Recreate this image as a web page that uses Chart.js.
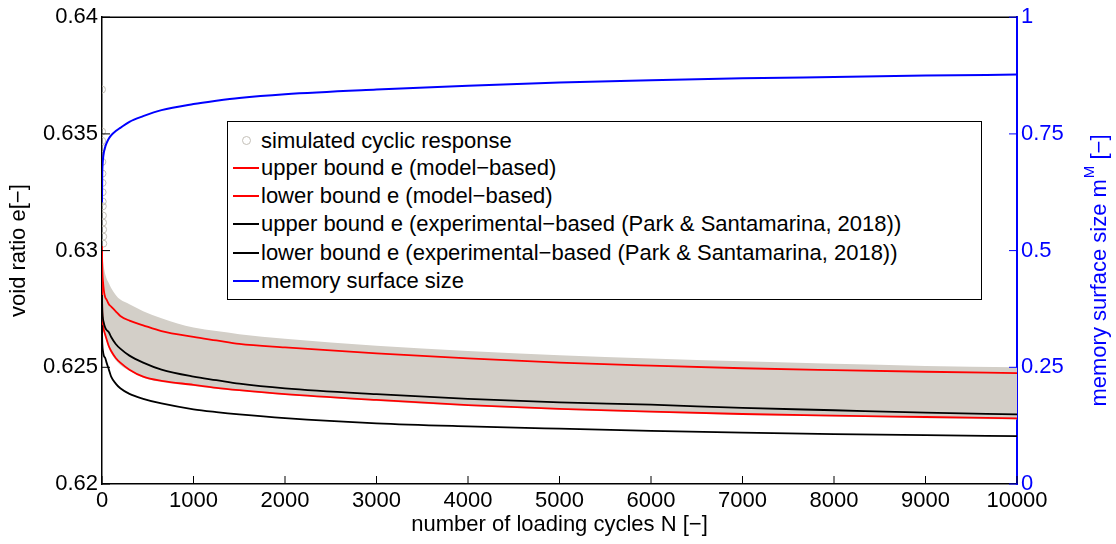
<!DOCTYPE html>
<html>
<head>
<meta charset="utf-8">
<script src="https://cdn.jsdelivr.net/npm/chart.js@4.4.1/dist/chart.umd.min.js"></script>
<style>
  html, body { margin: 0; padding: 0; background: #fff; }
  #wrap { position: relative; width: 1116px; height: 544px; }
  #legend {
    position: absolute; left: 227px; top: 121px; width: 755px; height: 179px;
    box-sizing: border-box; border: 1.5px solid #000; background: #fff;
    font-family: "Liberation Sans", Arial, sans-serif; font-size: 22px; color: #000;
  }
  .row { position: absolute; left: 0; height: 28px; line-height: 28px; width: 100%; }
  .sw { position: absolute; left: 5px; top: 13px; width: 26px; height: 2px; }
  .dot { position: absolute; left: 14px; top: 9px; width: 7px; height: 7px; border: 1px solid #c4c0b8; border-radius: 50%; }
  .txt { position: absolute; left: 33px; top: 0; white-space: nowrap; }
</style>
</head>
<body>
<div id="wrap">
  <canvas id="myChart" width="1116" height="544"></canvas>
  <div id="legend"></div>
</div>
<script>
// cycle numbers where the curves were read
const cycles = [0, 2, 5, 10, 20, 35, 50, 75, 100, 150, 200, 300, 450, 650, 1000, 1250, 1500, 2000, 3000, 4000, 5000, 6000, 7000, 8000, 9000, 10000];

// grey band of the simulated response (top / bottom edge)
const simUpper = [0.6302, 0.6300, 0.6298, 0.6296, 0.6293, 0.6290, 0.6288, 0.6286, 0.6284, 0.6281, 0.6279, 0.6277, 0.6274, 0.6271, 0.6267, 0.62655, 0.62642, 0.62622, 0.62592, 0.6257, 0.62552, 0.62538, 0.62526, 0.62515, 0.62506, 0.625];
const simLower = [0.6286, 0.6275, 0.6270, 0.6267, 0.6265, 0.6263, 0.6261, 0.6258, 0.6256, 0.6253, 0.6251, 0.62485, 0.62455, 0.62437, 0.6242, 0.62408, 0.62398, 0.62381, 0.62356, 0.62334, 0.62318, 0.62306, 0.62296, 0.62289, 0.62282, 0.62276];

// first cycles (circles at N ~ 0)
const firstCycles = [0, 1, 2, 3, 4, 5, 6, 7, 8, 9, 10, 11, 12, 13, 14];
const firstE = [0.6369, 0.6351, 0.6347, 0.6344, 0.6338, 0.6333, 0.6329, 0.6325, 0.6321, 0.6319, 0.6315, 0.6312, 0.6309, 0.6306, 0.6303];

// bounds
const upperModel = [0.6302, 0.6295, 0.6290, 0.6287, 0.6283, 0.6280, 0.6279, 0.6277, 0.6276, 0.6274, 0.6272, 0.6270, 0.6268, 0.62655, 0.6263, 0.62615, 0.6260, 0.62585, 0.6256, 0.62538, 0.6252, 0.62507, 0.62496, 0.62488, 0.62481, 0.62475];
const lowerModel = [0.6287, 0.6276, 0.6271, 0.6268, 0.6266, 0.6264, 0.6262, 0.6259, 0.6257, 0.6254, 0.6252, 0.6249, 0.6246, 0.62442, 0.62425, 0.62412, 0.62402, 0.62385, 0.6236, 0.62338, 0.62322, 0.6231, 0.623, 0.62293, 0.62287, 0.62281];
const upperExp = [0.6281, 0.6276, 0.6273, 0.6271, 0.6269, 0.6267, 0.6266, 0.6265, 0.6263, 0.6260, 0.6258, 0.6255, 0.6252, 0.6249, 0.6246, 0.62445, 0.6243, 0.6241, 0.62385, 0.62365, 0.6235, 0.6234, 0.62326, 0.62316, 0.62306, 0.62298];
const lowerExp = [0.6268, 0.6262, 0.6259, 0.6257, 0.6255, 0.6254, 0.6252, 0.6249, 0.6246, 0.6243, 0.6241, 0.62386, 0.62365, 0.62345, 0.6232, 0.62308, 0.62298, 0.62282, 0.6226, 0.62247, 0.62237, 0.62228, 0.6222, 0.62214, 0.62209, 0.62205];

// memory surface size (right axis)
const memSize = [0.603, 0.660, 0.680, 0.695, 0.710, 0.722, 0.730, 0.740, 0.747, 0.756, 0.763, 0.776, 0.788, 0.801, 0.814, 0.821, 0.827, 0.835, 0.845, 0.853, 0.860, 0.865, 0.869, 0.872, 0.875, 0.877];

const xTicks = [0, 1000, 2000, 3000, 4000, 5000, 6000, 7000, 8000, 9000, 10000];
const leftTicks = ["0.62", "0.625", "0.63", "0.635", "0.64"];
const rightTicks = ["0", "0.25", "0.5", "0.75", "1"];

const labels = [
  "simulated cyclic response",
  "upper bound e (model\u2212based)",
  "lower bound e (model\u2212based)",
  "upper bound e (experimental\u2212based (Park & Santamarina, 2018))",
  "lower bound e (experimental\u2212based (Park & Santamarina, 2018))",
  "memory surface size"
];
const colors = ["#c4c0b8", "#ff0000", "#ff0000", "#000000", "#000000", "#0000ff"];

const FONT = "'Liberation Sans', Arial, sans-serif";
const GREY = "rgb(211,207,200)";

function pts(xs, ys) {
  return xs.map((n, i) => ({ x: n, y: ys[i] }));
}

// build html legend
var lg = document.getElementById("legend");
var rowTops = [5, 32, 60, 88, 117, 145];
labels.forEach(function (txt, i) {
  var row = document.createElement("div");
  row.className = "row";
  row.style.top = rowTops[i] + "px";
  var mark = document.createElement("div");
  if (i == 0) {
    mark.className = "dot";
  } else {
    mark.className = "sw";
    mark.style.background = colors[i];
  }
  var t = document.createElement("div");
  t.className = "txt";
  t.textContent = txt;
  row.appendChild(mark);
  row.appendChild(t);
  lg.appendChild(row);
});

// frame, inner ticks and right axis title
const decor = {
  id: "decor",
  afterDraw(chart) {
    const { ctx, chartArea: a, scales } = chart;
    ctx.save();
    ctx.strokeStyle = "#000";
    ctx.lineWidth = 1.5;
    ctx.beginPath();
    ctx.moveTo(a.left, a.top);
    ctx.lineTo(a.right, a.top);
    ctx.stroke();

    ctx.lineWidth = 1;
    ctx.beginPath();
    scales.x.ticks.forEach(t => {
      const px = scales.x.getPixelForValue(t.value);
      ctx.moveTo(px, a.bottom);
      ctx.lineTo(px, a.bottom - 8);
    });
    scales.y.ticks.forEach(t => {
      const py = scales.y.getPixelForValue(t.value);
      ctx.moveTo(a.left, py);
      ctx.lineTo(a.left + 8, py);
    });
    ctx.stroke();
    ctx.strokeStyle = "#0000ff";
    ctx.beginPath();
    scales.y2.ticks.forEach(t => {
      const py = scales.y2.getPixelForValue(t.value);
      ctx.moveTo(a.right, py);
      ctx.lineTo(a.right - 8, py);
    });
    ctx.stroke();

    // right title with superscript M
    ctx.translate(1100, 271);
    ctx.rotate(-Math.PI / 2);
    ctx.fillStyle = "#0000ff";
    ctx.textBaseline = "middle";
    ctx.textAlign = "left";
    const p1 = "memory surface size m";
    const p2 = "M";
    const p3 = " [\u2212]";
    ctx.font = "22px " + FONT;
    const w1 = ctx.measureText(p1).width;
    const w3 = ctx.measureText(p3).width;
    ctx.font = "15px " + FONT;
    const w2 = ctx.measureText(p2).width;
    let x0 = -(w1 + w2 + w3) / 2;
    ctx.font = "22px " + FONT;
    ctx.fillText(p1, x0, 0);
    ctx.font = "15px " + FONT;
    ctx.fillText(p2, x0 + w1 + 1, -10);
    ctx.font = "22px " + FONT;
    ctx.fillText(p3, x0 + w1 + w2 + 1, 0);
    ctx.restore();
  }
};

var ctx = document.getElementById("myChart").getContext("2d");
var myChart = new Chart(ctx, {
  type: "line",
  data: {
    datasets: [
      {
        label: "band top",
        data: pts(cycles, simUpper),
        borderWidth: 0,
        borderColor: GREY,
        backgroundColor: GREY,
        pointRadius: 0,
        fill: "+1",
        cubicInterpolationMode: "monotone",
        order: 10,
        yAxisID: "y"
      },
      {
        label: "band bottom",
        data: pts(cycles, simLower),
        borderWidth: 0,
        borderColor: GREY,
        pointRadius: 0,
        fill: false,
        cubicInterpolationMode: "monotone",
        order: 9,
        yAxisID: "y"
      },
      {
        label: labels[0],
        data: pts(firstCycles, firstE),
        showLine: false,
        pointRadius: 3.5,
        pointBorderWidth: 1,
        pointBorderColor: "#c4c0b8",
        pointBackgroundColor: "rgba(0,0,0,0)",
        order: 8,
        yAxisID: "y"
      },
      {
        label: labels[1],
        data: pts(cycles, upperModel),
        borderColor: colors[1],
        borderWidth: 1.8,
        pointRadius: 0,
        cubicInterpolationMode: "monotone",
        order: 5,
        yAxisID: "y"
      },
      {
        label: labels[2],
        data: pts(cycles, lowerModel),
        borderColor: colors[2],
        borderWidth: 1.8,
        pointRadius: 0,
        cubicInterpolationMode: "monotone",
        order: 4,
        yAxisID: "y"
      },
      {
        label: labels[3],
        data: pts(cycles, upperExp),
        borderColor: colors[3],
        borderWidth: 1.8,
        pointRadius: 0,
        cubicInterpolationMode: "monotone",
        order: 3,
        yAxisID: "y"
      },
      {
        label: labels[4],
        data: pts(cycles, lowerExp),
        borderColor: colors[4],
        borderWidth: 1.8,
        pointRadius: 0,
        cubicInterpolationMode: "monotone",
        order: 2,
        yAxisID: "y"
      },
      {
        label: labels[5],
        data: pts(cycles, memSize),
        borderColor: colors[5],
        borderWidth: 2,
        pointRadius: 0,
        cubicInterpolationMode: "monotone",
        order: 1,
        yAxisID: "y2"
      }
    ]
  },
  options: {
    responsive: false,
    animation: false,
    layout: { padding: { top: 13, left: 0, right: 0, bottom: 0 } },
    plugins: {
      legend: { display: false },
      tooltip: { enabled: false }
    },
    scales: {
      x: {
        type: "linear",
        min: 0,
        max: 10000,
        afterBuildTicks: function (s) { s.ticks = xTicks.map(v => ({ value: v })); },
        afterFit: function (s) { s.height = 60; },
        grid: { display: false, drawTicks: false },
        border: { display: true, color: "#000", width: 1.5 },
        ticks: {
          color: "#000",
          font: { family: FONT, size: 22 },
          padding: 4,
          maxRotation: 0,
          autoSkip: false,
          callback: function (v) { return String(v); }
        },
        title: {
          display: true,
          text: "number of loading cycles N [\u2212]",
          color: "#000",
          font: { family: FONT, size: 22 },
          padding: { top: 0, bottom: 6 }
        }
      },
      y: {
        position: "left",
        min: 0.62,
        max: 0.64,
        afterBuildTicks: function (s) { s.ticks = [0.62, 0.625, 0.63, 0.635, 0.64].map(v => ({ value: v })); },
        afterFit: function (s) { s.width = 102; },
        grid: { display: false, drawTicks: false },
        border: { display: true, color: "#000", width: 1.5 },
        ticks: {
          color: "#000",
          font: { family: FONT, size: 22 },
          padding: 4,
          callback: function (v, i) { return leftTicks[i]; }
        },
        title: {
          display: true,
          text: "void ratio e[\u2212]",
          color: "#000",
          font: { family: FONT, size: 22 },
          padding: { top: 6, bottom: 0 }
        }
      },
      y2: {
        position: "right",
        min: 0,
        max: 1,
        afterBuildTicks: function (s) { s.ticks = [0, 0.25, 0.5, 0.75, 1].map(v => ({ value: v })); },
        afterFit: function (s) { s.width = 99; },
        grid: { display: false, drawTicks: false },
        border: { display: true, color: "#0000ff", width: 2 },
        ticks: {
          color: "#0000ff",
          font: { family: FONT, size: 22 },
          padding: 4,
          callback: function (v, i) { return rightTicks[i]; }
        }
      }
    }
  },
  plugins: [decor]
});
</script>
</body>
</html>
